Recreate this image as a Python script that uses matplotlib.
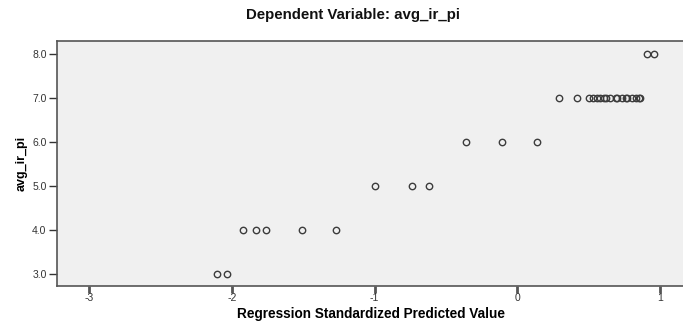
import matplotlib
matplotlib.use("Agg")
import matplotlib.pyplot as plt

plt.rcParams['font.family'] = ['Liberation Sans', 'DejaVu Sans']

# Data: regression standardized predicted value (x) vs avg_ir_pi (y)
pred_values = [-2.10, -2.03,
               -1.92, -1.83, -1.76, -1.51, -1.27,
               -1.00, -0.74, -0.62,
               -0.36, -0.11, 0.14,
               0.29, 0.42, 0.50, 0.53, 0.56, 0.58, 0.61, 0.62, 0.65,
               0.69, 0.70, 0.73, 0.76, 0.77, 0.80, 0.83, 0.85, 0.86,
               0.91, 0.96]
avg_ir_pi = [3.0, 3.0,
             4.0, 4.0, 4.0, 4.0, 4.0,
             5.0, 5.0, 5.0,
             6.0, 6.0, 6.0,
             7.0, 7.0, 7.0, 7.0, 7.0, 7.0, 7.0, 7.0, 7.0,
             7.0, 7.0, 7.0, 7.0, 7.0, 7.0, 7.0, 7.0, 7.0,
             8.0, 8.0]
x_ticks = [-3, -2, -1, 0, 1]
y_ticks = [3.0, 4.0, 5.0, 6.0, 7.0, 8.0]

fig = plt.figure(figsize=(6.83, 3.23), dpi=100)
ax = fig.add_axes([57/683, 1 - 285.7/323, 1 - 57/683 + 0.002, (285.7 - 41)/323])
ax.set_facecolor('#F0F0F0')

ax.plot(pred_values, avg_ir_pi, linestyle='none', marker='o', markersize=4.6,
        markerfacecolor='none', markeredgecolor='#3C3C3C', markeredgewidth=1.0)

ax.set_xlim(-3.224, 1.17)
ax.set_ylim(2.73, 8.3)
ax.set_xticks(x_ticks)
ax.set_xticklabels([str(v) for v in x_ticks])
ax.set_yticks(y_ticks)
ax.set_yticklabels([f"{v:.1f}" for v in y_ticks])

for s in ['left', 'bottom', 'top']:
    ax.spines[s].set_color('#555555')
    ax.spines[s].set_linewidth(1.2)
ax.spines['right'].set_visible(False)

ax.tick_params(axis='y', direction='out', length=6, width=1.0, colors='#333333',
               labelsize=7.5, pad=1.5)
ax.tick_params(axis='x', direction='out', length=5, width=2.0, colors='#555555',
               labelsize=7.5, labelcolor='#333333', pad=0.5)

ax.set_ylabel('avg_ir_pi', fontsize=9, fontweight='bold', labelpad=3)
ax.set_xlabel('Regression Standardized Predicted Value', fontsize=9.8,
              fontweight='bold', labelpad=2.5)

fig.text(353/683, 1 - 15/323, 'Dependent Variable: avg_ir_pi', ha='center',
         va='center', fontsize=10.8, fontweight='bold', color='#111111')

fig.savefig('out.png', dpi=100)
